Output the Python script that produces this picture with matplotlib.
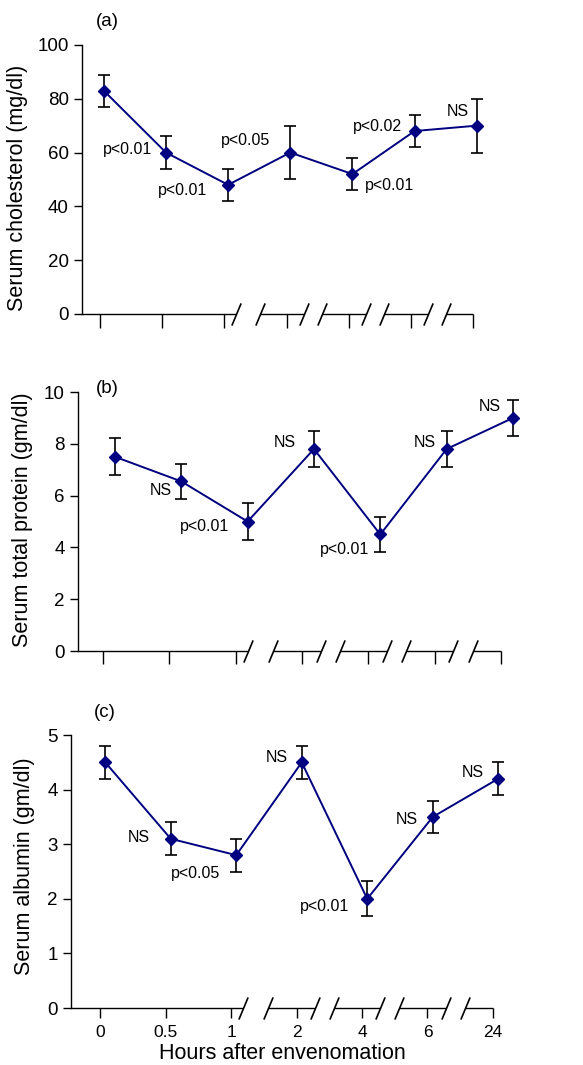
import numpy as np
import matplotlib.pyplot as plt

plt.rcParams['font.family'] = ['Liberation Sans', 'DejaVu Sans']

# hours after envenomation (categories on the x axis)
hours = ['0', '0.5', '1', '2', '4', '6', '24']

# (a) serum cholesterol (mg/dl)
chol_mean = [83, 60, 48, 60, 52, 68, 70]
chol_err = [6, 6, 6, 10, 6, 6, 10]
chol_sig = ['', 'p<0.01', 'p<0.01', 'p<0.05', 'p<0.01', 'p<0.02', 'NS']

# (b) serum total protein (gm/dl)
protein_mean = [7.5, 6.55, 5.0, 7.8, 4.5, 7.8, 9.0]
protein_err = [0.72, 0.68, 0.72, 0.69, 0.66, 0.69, 0.68]
protein_sig = ['', 'NS', 'p<0.01', 'NS', 'p<0.01', 'NS', 'NS']

# (c) serum albumin (gm/dl)
albumin_mean = [4.5, 3.1, 2.8, 4.5, 2.0, 3.5, 4.2]
albumin_err = [0.3, 0.3, 0.3, 0.3, 0.32, 0.3, 0.3]
albumin_sig = ['', 'NS', 'p<0.05', 'NS', 'p<0.01', 'NS', 'NS']

navy = '#000080'

# where the significance labels sit relative to their point (in points)
chol_pos = [None, (-28, 2), (-33, -4), (-32, 9), (27, -8), (-27, 3), (-14, 10)]
protein_pos = [None, (-15, -6.5), (-31, -3.6), (-21, 5), (-26, -10.6), (-16, 5), (-16.5, 8.4)]
albumin_pos = [None, (-23, 1.2), (-29, -13), (-18, 3.6), (-31, -5.8), (-19, -1.7), (-18, 4.8)]


def broken_xaxis(ax):
    # x axis drawn in pieces with // marks between the later time points
    ax.spines['bottom'].set_visible(False)
    n = len(hours)
    starts = [ax.get_xlim()[0]]
    ends = []
    for k in range(2, n - 1):
        a = 0.19 if k == 2 else 0.28
        ends.append(k + a)
        starts.append(k + 0.57)
    ends.append(n - 1)
    for s, e in zip(starts, ends):
        ax.plot([s, e], [0, 0], color='black', lw=1.0, clip_on=False,
                solid_capstyle='butt')
    slashes = ends[:-1] + starts[1:]
    ax.plot(slashes, [0] * len(slashes), marker=[(-1, -2.4), (1, 2.4)],
            ms=16, ls='none', mec='black', mew=1.2, clip_on=False)


def draw_panel(ax, mean, err, sig, pos, shift, ymax, ystep, ylabel, tag,
               ylab_xy, tag_xy, ticklen):
    x = np.arange(len(hours)) + shift
    ax.errorbar(x, mean, yerr=err, fmt='none', ecolor='black', elinewidth=1.2,
                capsize=4.2, capthick=1.2, zorder=2, clip_on=False)
    ax.plot(x, mean, color=navy, lw=1.4, marker='D', ms=6.4, zorder=3,
            clip_on=False)

    for i, s in enumerate(sig):
        if s:
            ax.annotate(s, (x[i], mean[i]), xytext=pos[i], textcoords='offset points',
                        ha='center', va='center', fontsize=11.5, annotation_clip=False)

    ax.set_ylim(0, ymax)
    ax.set_yticks(np.arange(0, ymax + ystep / 2, ystep))
    ax.set_xticks(range(len(hours)))
    ax.spines['top'].set_visible(False)
    ax.spines['right'].set_visible(False)
    ax.spines['left'].set_linewidth(1.0)
    ax.tick_params(axis='y', direction='out', length=5.5, width=1.0, labelsize=13.5, pad=4)
    ax.tick_params(axis='x', direction='out', length=ticklen, width=1.0, labelsize=12.5, pad=5)
    ax.set_ylabel(ylabel, fontsize=15.5)
    ax.yaxis.set_label_coords(*ylab_xy)
    ax.text(tag_xy[0], tag_xy[1], tag, transform=ax.transAxes, fontsize=13.5,
            ha='center', va='center')


fig = plt.figure(figsize=(5.83, 10.65), dpi=100)

ax1 = fig.add_axes([0.1407, 0.7052, 0.6707, 0.2526])
ax1.set_xlim(-0.29, 6)
draw_panel(ax1, chol_mean, chol_err, chol_sig, chol_pos, 0.06, 100, 20,
           'Serum cholesterol (mg/dl)', '(a)', (-0.138, 0.468), (0.066, 1.089), 10)
ax1.set_xticklabels([])
broken_xaxis(ax1)

ax2 = fig.add_axes([0.1338, 0.3887, 0.7256, 0.2432])
ax2.set_xlim(-0.377, 6)
draw_panel(ax2, protein_mean, protein_err, protein_sig, protein_pos, 0.18, 10, 2,
           'Serum total protein (gm/dl)', '(b)', (-0.106, 0.506), (0.069, 1.015), 9)
ax2.set_xticklabels([])
broken_xaxis(ax2)

ax3 = fig.add_axes([0.1218, 0.0535, 0.7238, 0.2563])
ax3.set_xlim(-0.443, 6)
draw_panel(ax3, albumin_mean, albumin_err, albumin_sig, albumin_pos, 0.08, 5, 1,
           'Serum albumin (gm/dl)', '(c)', (-0.085, 0.52), (0.081, 1.084), 7)
ax3.set_xticklabels(hours)
ax3.set_xlabel('Hours after envenomation', fontsize=15.5)
ax3.xaxis.set_label_coords(0.5, -0.128)
broken_xaxis(ax3)

fig.savefig('out.png', dpi=100)
